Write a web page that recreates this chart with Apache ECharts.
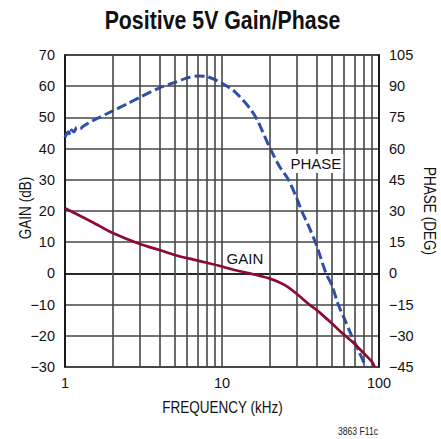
<!DOCTYPE html>
<html>
<head>
<meta charset="utf-8">
<script src="https://cdn.jsdelivr.net/npm/echarts@6/dist/echarts.min.js"></script>
<style>
  html, body { margin: 0; padding: 0; background: #fff; }
  #chart { width: 441px; height: 439px; }
</style>
</head>
<body>
<div id="chart"></div>
<script>
// Frequency (kHz) and measured gain (dB)
const gainFreq = [1, 1.5, 2, 3, 4, 5, 7, 10, 12, 15, 20, 25, 30, 36, 40, 50, 60, 70, 80, 90, 94];
const gainDb   = [20.9, 16.4, 13.0, 9.4, 7.5, 5.9, 4.1, 2.2, 1.1, 0, -1.6, -3.7, -6.6, -10, -11.7, -16, -19.7, -22.6, -25.6, -28.3, -30];

// Frequency (kHz) and measured phase (degrees)
const phaseFreq = [1, 1.05, 1.08, 1.1, 1.14, 1.19, 1.25, 1.3, 1.5, 2, 2.5, 3, 4, 5, 6, 7, 8, 9, 10, 12, 15, 16.7, 20, 23, 26.5, 30, 32.2, 36, 40, 46, 50, 55, 60, 67, 75, 82.5];
const phaseDeg  = [65.4, 68.1, 66.5, 68.9, 68.0, 70.2, 69.6, 70.6, 73.4, 78.0, 81.6, 84.7, 89.2, 91.8, 94.0, 94.9, 94.6, 93.2, 91.4, 87.5, 79.5, 74, 61, 52, 45, 36, 30, 22, 13.5, 0, -5.5, -15, -21.5, -30, -38, -45];

// Axis settings
const freqMin = 1, freqMax = 100;
const gainMin = -30, gainMax = 70, gainStep = 10;
const phaseMin = -45, phaseMax = 105, phaseStep = 15;
// Log-decade sub-division grid lines
const minorFreqs = [2, 3, 4, 5, 6, 7, 8, 9, 20, 30, 40, 50, 60, 70, 80, 90];

// Curve labels: [text, frequency, value]
const gainLabel = ['GAIN', 14.0, 4.9];
const phaseLabel = ['PHASE', 39.6, 52.8];

const sans = "'Liberation Sans', Arial, sans-serif";
const gridColor = '#464646';
const ink = '#111111';
const condensed = 0.82;   // horizontal squeeze for the condensed lettering

const minusFmt = v => String(v).replace('-', '\u2212');

const chart = echarts.init(document.getElementById('chart'), null, { renderer: 'svg' });

const zip = (xs, ys) => xs.map((x, i) => [x, ys[i]]);

const squeezedText = (text, x, y, size, opts) => Object.assign({
  type: 'text',
  x: x, y: y,
  scaleX: condensed,
  silent: true,
  style: {
    text: text,
    font: (opts && opts.bold ? 'bold ' : '') + size + 'px ' + sans,
    fill: ink,
    textAlign: 'center',
    textVerticalAlign: 'middle'
  }
}, opts && opts.rotation !== undefined ? { rotation: opts.rotation } : {});

const option = {
  animation: false,
  backgroundColor: '#ffffff',
  graphic: [
    squeezedText('Positive 5V Gain/Phase', 222.5, 19.5, 26, { bold: true }),
    squeezedText('FREQUENCY (kHz)', 222.5, 406.5, 16.5),
    squeezedText('GAIN (dB)', 24.5, 208, 16.5, { rotation: Math.PI / 2 }),
    squeezedText('PHASE (DEG)', 430, 211, 16.5, { rotation: -Math.PI / 2 }),
    {
      type: 'text', x: 378, y: 431.5, scaleX: 0.86, silent: true,
      style: { text: '3863 F11c', font: '10px ' + sans, fill: '#222', textAlign: 'right', textVerticalAlign: 'middle' }
    }
  ],
  grid: {
    left: 65, right: 62, top: 55, bottom: 72,
    show: true, borderColor: ink, borderWidth: 1.6, backgroundColor: 'transparent'
  },
  xAxis: {
    type: 'log',
    logBase: 10,
    min: freqMin,
    max: freqMax,
    axisLine: { show: true, lineStyle: { color: ink, width: 1.6 } },
    axisTick: { show: false },
    axisLabel: { fontFamily: sans, fontSize: 14.5, color: ink, margin: 8 },
    splitLine: { show: true, lineStyle: { color: gridColor, width: 1.6 } }
  },
  yAxis: [{
    type: 'value',
    min: gainMin, max: gainMax, interval: gainStep,
    position: 'left',
    axisLine: { show: true, lineStyle: { color: ink, width: 1.6 } },
    axisTick: { show: false },
    axisLabel: { fontFamily: sans, fontSize: 14.5, color: ink, margin: 10, formatter: minusFmt },
    splitLine: { show: true, lineStyle: { color: gridColor, width: 1.6 } }
  }, {
    type: 'value',
    min: phaseMin, max: phaseMax, interval: phaseStep,
    position: 'right',
    axisLine: { show: true, lineStyle: { color: ink, width: 1.6 } },
    axisTick: { show: false },
    axisLabel: { fontFamily: sans, fontSize: 14.5, color: ink, margin: 10, formatter: minusFmt },
    splitLine: { show: false }
  }],
  series: [{
    // vertical grid lines between decades
    type: 'line',
    data: [],
    silent: true,
    z: 1,
    markLine: {
      silent: true,
      symbol: 'none',
      label: { show: false },
      lineStyle: { color: gridColor, width: 1.6, type: 'solid' },
      data: minorFreqs.map(f => ({ xAxis: f }))
    }
  }, {
    name: 'PHASE',
    type: 'line',
    yAxisIndex: 1,
    z: 4,
    smooth: 0.3,
    symbol: 'none',
    data: zip(phaseFreq, phaseDeg),
    lineStyle: { color: '#2f50aa', width: 3, type: [10, 4] },
    markPoint: {
      symbol: 'rect', symbolSize: 1,
      itemStyle: { color: 'transparent' },
      label: {
        show: true, position: 'inside', formatter: phaseLabel[0],
        fontFamily: sans, fontSize: 15, color: ink,
        backgroundColor: '#fff', padding: [2, 2]
      },
      data: [{ coord: [phaseLabel[1], phaseLabel[2]] }]
    }
  }, {
    name: 'GAIN',
    type: 'line',
    yAxisIndex: 0,
    z: 5,
    smooth: 0.3,
    symbol: 'none',
    data: zip(gainFreq, gainDb),
    lineStyle: { color: '#8c0b2f', width: 2.7 },
    markPoint: {
      symbol: 'rect', symbolSize: 1,
      itemStyle: { color: 'transparent' },
      label: {
        show: true, position: 'inside', formatter: gainLabel[0],
        fontFamily: sans, fontSize: 15, color: ink,
        backgroundColor: '#fff', padding: [2, 2]
      },
      data: [{ coord: [gainLabel[1], gainLabel[2]] }]
    }
  }]
};

chart.setOption(option);
</script>
</body>
</html>
